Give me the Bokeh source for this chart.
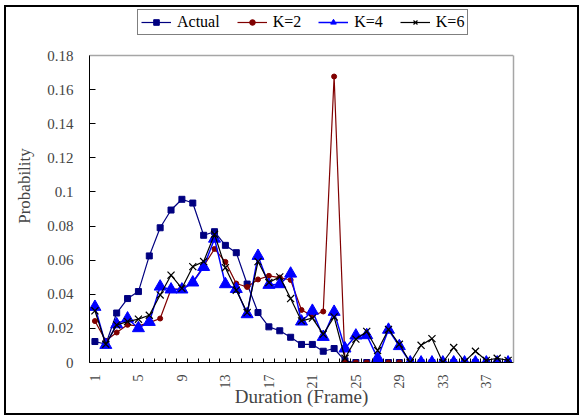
from bokeh.plotting import figure
from bokeh.layouts import column
from bokeh.models import Legend, FixedTicker, CustomJSTickFormatter, Range1d, LinearAxis, Span
from bokeh.embed import file_html
from bokeh.resources import INLINE

durations = list(range(1, 40))
tick_labels = [1, 5, 9, 13, 17, 21, 25, 29, 33, 37]
y_ticks = [0, 0.02, 0.04, 0.06, 0.08, 0.1, 0.12, 0.14, 0.16, 0.18]

actual = [0.0123, 0.0107, 0.0290, 0.0375, 0.0416, 0.0625, 0.0790, 0.0894, 0.0957, 0.0935,
          0.0746, 0.0767, 0.0687, 0.0644, 0.0460, 0.0293, 0.0209, 0.0186, 0.0148, 0.0106,
          0.0106, 0.0066, 0.0082, 0.0010, 0, 0, 0, 0, 0, 0,
          0, 0, 0, 0, 0, 0, 0, 0, 0]
k2 = [0.0243, 0.0127, 0.0176, 0.0221, 0.0215, 0.0234, 0.0258, 0.0430, 0.0430, 0.0470,
      0.0566, 0.0666, 0.0590, 0.0463, 0.0443, 0.0487, 0.0508, 0.0498, 0.0484, 0.0308,
      0.0274, 0.0299, 0.1677, 0.0, 0, 0, 0, 0, 0, 0,
      0, 0, 0, 0, 0, 0, 0, 0, 0]
k4 = [0.0326, 0.0103, 0.0224, 0.0258, 0.0201, 0.0238, 0.0445, 0.0428, 0.0428, 0.0469,
      0.0560, 0.0726, 0.0459, 0.0431, 0.0283, 0.0625, 0.0455, 0.0459, 0.0521, 0.0240,
      0.0303, 0.0150, 0.0297, 0.0082, 0.0158, 0.0160, 0.0026, 0.0192, 0.0096, 0,
      0, 0, 0, 0, 0, 0, 0, 0, 0]
k6 = [0.0303, 0.0107, 0.0220, 0.0240, 0.0254, 0.0277, 0.0396, 0.0512, 0.0435, 0.0562,
      0.0592, 0.0752, 0.0556, 0.0424, 0.0293, 0.0592, 0.0469, 0.0502, 0.0375, 0.0244,
      0.0260, 0.0166, 0.0267, 0.0025, 0.0137, 0.0182, 0.0070, 0.0194, 0.0107, 0.0,
      0.0101, 0.0140, 0.0, 0.0088, 0.0005, 0.0066, 0.0012, 0.0025, 0.0012]

FONT = "Liberation Serif"
Y_MAX = 0.18

p = figure(frame_width=424, frame_height=353, output_backend="svg", toolbar_location=None,
           x_range=Range1d(0.5, 39.5), y_range=Range1d(0, 0.207),
           min_border_left=83, min_border_right=64, min_border_top=2, min_border_bottom=51)
p.xgrid.visible = False
p.ygrid.visible = False
p.outline_line_color = None
p.background_fill_color = "white"
p.border_fill_color = "white"

# light grey plot-area border (top and right)
p.add_layout(Span(location=Y_MAX, dimension="width", line_color="#a6a6a6", line_width=1.5))
ra = LinearAxis(bounds=(0, Y_MAX), ticker=FixedTicker(ticks=[]), axis_line_color="#a6a6a6",
                axis_line_width=1.5, major_tick_line_color=None, minor_tick_line_color=None)
p.add_layout(ra, "right")

r_a1 = p.line(durations, actual, line_color="#000080", line_width=1.2)
r_a2 = p.scatter(durations, actual, marker="square", size=6, fill_color="#000080", line_color="#000080")
r_b1 = p.line(durations, k2, line_color="#800000", line_width=1.2)
r_b2 = p.scatter(durations, k2, marker="circle", size=5, fill_color="#800000", line_color="#800000")
r_c1 = p.line(durations, k4, line_color="#0000ff", line_width=1.5)
r_c2 = p.scatter(durations, k4, marker="triangle", size=12, fill_color="#0000ff", line_color="#0000ff")
r_d1 = p.line(durations, k6, line_color="black", line_width=1.2)
r_d2 = p.scatter(durations, k6, marker="x", size=10, line_color="black", line_width=1.2)

legend = Legend(items=[("Actual", [r_a1, r_a2]), ("K=2", [r_b1, r_b2]),
                       ("K=4", [r_c1, r_c2]), ("K=6", [r_d1, r_d2])],
                orientation="horizontal", location=(48, 327))
legend.border_line_color = "black"
legend.border_line_width = 1
legend.background_fill_alpha = 1
legend.label_text_font = FONT
legend.label_text_font_size = "16px"
legend.label_text_color = "black"
legend.glyph_width = 30
legend.glyph_height = 14
legend.label_standoff = 6
legend.spacing = 17
legend.padding = 3
legend.margin = 0
legend.label_height = 13
p.add_layout(legend, "center")

xa = p.xaxis[0]
xa.ticker = FixedTicker(ticks=tick_labels, minor_ticks=[i + 0.5 for i in range(0, 40)])
xa.major_tick_line_color = None
xa.minor_tick_in = 4
xa.minor_tick_out = 0
xa.minor_tick_line_color = "black"
xa.major_label_orientation = 1.5708
xa.major_label_text_font = FONT
xa.major_label_text_font_size = "14px"
xa.major_label_standoff = 6
xa.axis_label = "Duration (Frame)"
xa.axis_label_text_font = FONT
xa.axis_label_text_font_size = "19px"
xa.axis_label_text_font_style = "normal"
xa.axis_label_standoff = -5
xa.axis_line_color = "black"

ya = p.yaxis[0]
ya.bounds = (0, Y_MAX)
ya.ticker = FixedTicker(ticks=y_ticks)
ya.formatter = CustomJSTickFormatter(code="return String(Math.round(tick*100)/100);")
ya.major_tick_in = 6
ya.major_tick_out = 0
ya.minor_tick_line_color = None
ya.major_label_text_font = FONT
ya.major_label_text_font_size = "15px"
ya.major_label_standoff = 16
ya.axis_label = "Probability"
ya.axis_label_text_font = FONT
ya.axis_label_text_font_size = "17px"
ya.axis_label_text_font_style = "normal"
ya.axis_label_standoff = 10
ya.axis_line_color = "black"

layout = column(p, margin=(5, 0, 0, 4),
                styles={"border": "2px solid black", "background": "white"})

open("out.html", "w").write(file_html(layout, INLINE))
